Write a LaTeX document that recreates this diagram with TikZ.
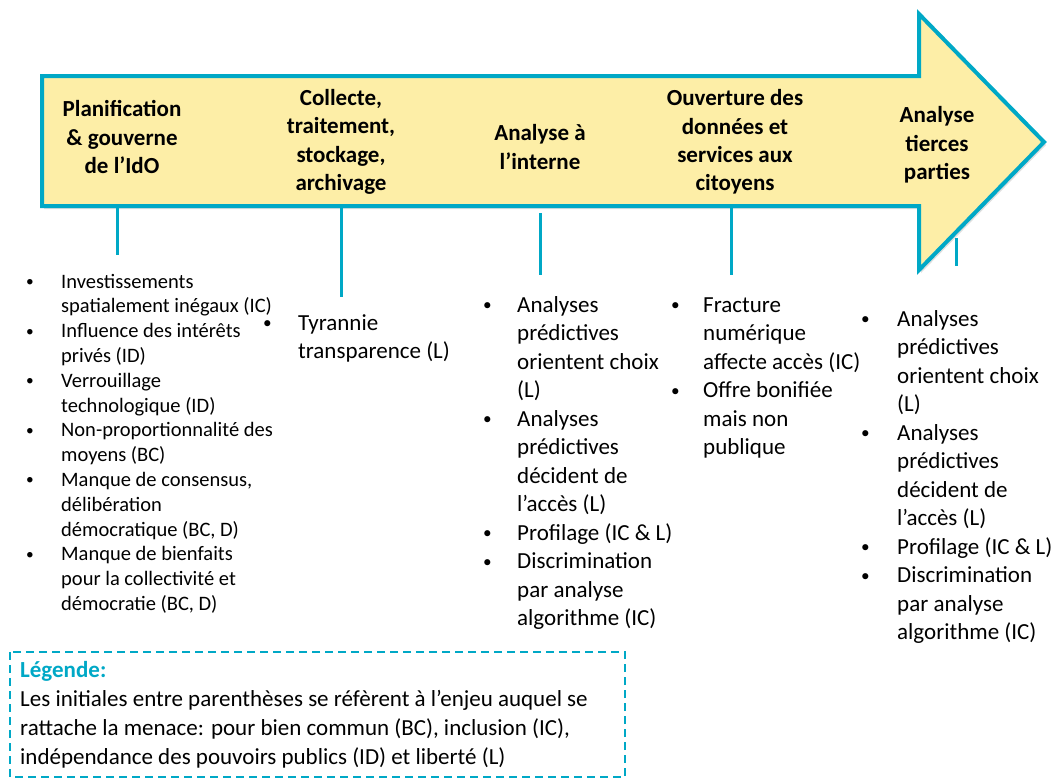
\documentclass[tikz,border=0pt]{standalone}
\usepackage{fontspec}
\setmainfont{Carlito}
\usepackage{xcolor}
\usetikzlibrary{shadows}

\definecolor{tealline}{RGB}{0,168,198}
\definecolor{arrowfill}{RGB}{253,238,167}
\newcommand{\bul}{\raisebox{1.5pt}{\scalebox{0.75}{•}}}

\begin{document}
\begin{tikzpicture}[x=1pt, y=-1pt,
  phase/.style={font=\fontsize{23}{28.3}\selectfont\bfseries, align=center, inner sep=0pt},
  threats/.style={font=\fontsize{23}{28.5}\selectfont, anchor=base west, inner sep=0pt},
  stem/.style={draw=tealline, line width=3pt}]
  \useasboundingbox (0,0) rectangle (1058,779);

  % Timeline arrow
  \draw[fill=arrowfill, draw=tealline, line width=4pt, line join=miter,
        drop shadow={shadow xshift=2pt, shadow yshift=-3pt, opacity=0.25}]
    (42,76) -- (919,76) -- (919,14) -- (1044,142) -- (919,270) -- (919,206) -- (42,206) -- cycle;

  % Phases
  \node[phase] (plan) at (122,137) {Planification\\\& gouverne\\de l’IdO};
  \node[phase] (collecte) at (341,142) {Collecte,\\traitement,\\stockage,\\archivage};
  \node[phase] (interne) at (540,147) {Analyse à\\l’interne};
  \node[phase] (ouverture) at (735,142) {Ouverture des\\données et\\services aux\\citoyens};
  \node[phase] (tierces) at (937,145) {Analyse\\tierces\\parties};

  % Stems
  \coordinate (plan-s) at (117,208);   \coordinate (plan-e) at (117,255);
  \coordinate (collecte-s) at (341,208); \coordinate (collecte-e) at (341,297);
  \coordinate (interne-s) at (540,213);  \coordinate (interne-e) at (540,275);
  \coordinate (ouverture-s) at (731,208); \coordinate (ouverture-e) at (731,275);
  \coordinate (tierces-s) at (956,238);  \coordinate (tierces-e) at (956,266);
  \draw[stem] (plan-s) -- (plan-e);
  \draw[stem] (collecte-s) -- (collecte-e);
  \draw[stem] (interne-s) -- (interne-e);
  \draw[stem] (ouverture-s) -- (ouverture-e);
  \draw[stem] (tierces-s) -- (tierces-e);

  % Threats per phase
  \node[threats, font=\fontsize{20.5}{24.8}\selectfont] (plan-list) at (26,288) {%
    \begin{tabular}[t]{@{}p{35pt}@{}l@{}}
    \bul & Investissements\\
         & spatialement inégaux (IC)\\
    \bul & Influence des intérêts\\
         & privés (ID)\\
    \bul & Verrouillage\\
         & technologique (ID)\\
    \bul & Non-proportionnalité des\\
         & moyens (BC)\\
    \bul & Manque de consensus,\\
         & délibération\\
         & démocratique (BC, D)\\
    \bul & Manque de bienfaits\\
         & pour la collectivité et\\
         & démocratie (BC, D)
    \end{tabular}};

  \node[threats] (collecte-list) at (263,330) {%
    \begin{tabular}[t]{@{}p{35pt}@{}l@{}}
    \bul & Tyrannie\\
         & transparence (L)
    \end{tabular}};

  \node[threats] (interne-list) at (483,312) {%
    \begin{tabular}[t]{@{}p{34pt}@{}l@{}}
    \bul & Analyses\\
         & prédictives\\
         & orientent choix\\
         & (L)\\
    \bul & Analyses\\
         & prédictives\\
         & décident de\\
         & l’accès (L)\\
    \bul & Profilage (IC \& L)\\
    \bul & Discrimination\\
         & par analyse\\
         & algorithme (IC)
    \end{tabular}};

  \node[threats] (ouverture-list) at (671,312) {%
    \begin{tabular}[t]{@{}p{32pt}@{}l@{}}
    \bul & Fracture\\
         & numérique\\
         & affecte accès (IC)\\
    \bul & Offre bonifiée\\
         & mais non\\
         & publique
    \end{tabular}};

  \node[threats] (tierces-list) at (861,326) {%
    \begin{tabular}[t]{@{}p{36pt}@{}l@{}}
    \bul & Analyses\\
         & prédictives\\
         & orientent choix\\
         & (L)\\
    \bul & Analyses\\
         & prédictives\\
         & décident de\\
         & l’accès (L)\\
    \bul & Profilage (IC \& L)\\
    \bul & Discrimination\\
         & par analyse\\
         & algorithme (IC)
    \end{tabular}};

  % Legend
  \draw[draw=tealline, line width=2pt, dash pattern=on 8pt off 5pt] (10,652) rectangle (625,777);
  \node[anchor=base west, align=left, inner sep=0pt, font=\fontsize{23}{29}\selectfont] (legend) at (20,764)
    {{\bfseries\color{tealline}Légende:}\\
     Les initiales entre parenthèses se réfèrent à l’enjeu auquel se\\
     rattache la menace: pour bien commun (BC), inclusion (IC),\\
     indépendance des pouvoirs publics (ID) et liberté (L)};

\end{tikzpicture}
\end{document}
